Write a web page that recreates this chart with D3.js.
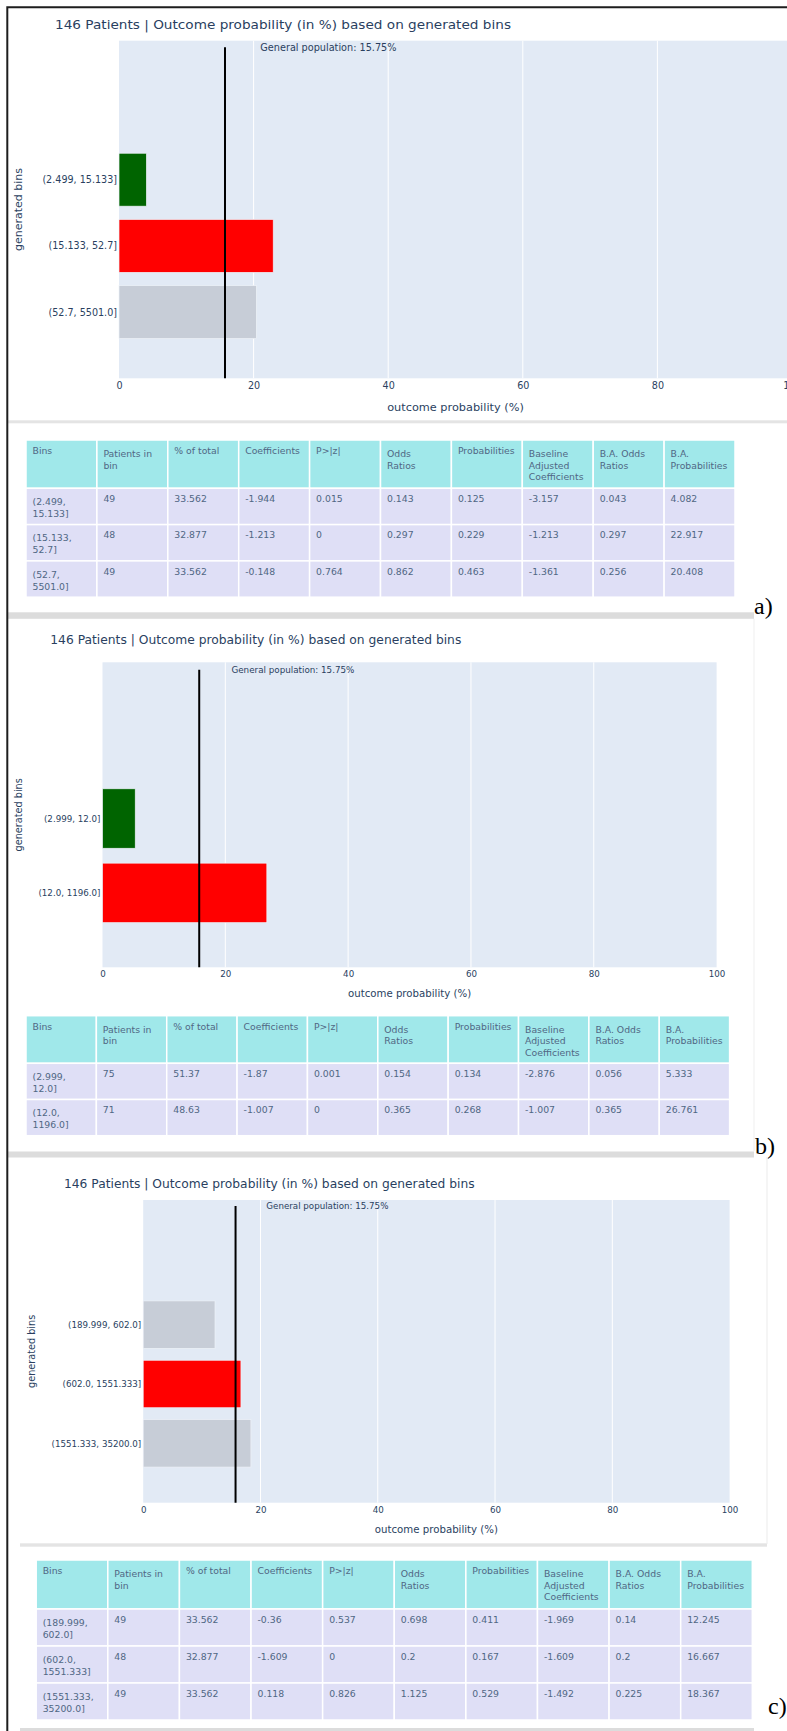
<!DOCTYPE html>
<html>
<head>
<meta charset="utf-8">
<script src="https://cdn.jsdelivr.net/npm/d3@7"></script>
<style>
  html, body { margin: 0; padding: 0; background: #ffffff; }
  svg { display: block; }
</style>
</head>
<body>
<svg id="fig" width="787" height="1731"></svg>
<script>
// ---------------- data ----------------
const generalPopulation = 15.75;
const xTicks = [0, 20, 40, 60, 80, 100];
const tableHeaders = ["Bins", "Patients in<br>bin", "% of total", "Coefficients", "P>|z|",
  "Odds<br>Ratios", "Probabilities", "Baseline<br>Adjusted<br>Coefficients",
  "B.A. Odds<br>Ratios", "B.A.<br>Probabilities"];

// a)
const binsA = ["(2.499, 15.133]", "(15.133, 52.7]", "(52.7, 5501.0]"];
const patientsA = [49, 48, 49];
const pctA = [33.562, 32.877, 33.562];
const coefA = [-1.944, -1.213, -0.148];
const pvalA = [0.015, 0, 0.764];
const oddsA = [0.143, 0.297, 0.862];
const probA = [0.125, 0.229, 0.463];
const baCoefA = [-3.157, -1.213, -1.361];
const baOddsA = [0.043, 0.297, 0.256];
const baProbA = [4.082, 22.917, 20.408];

// b)
const binsB = ["(2.999, 12.0]", "(12.0, 1196.0]"];
const patientsB = [75, 71];
const pctB = [51.37, 48.63];
const coefB = [-1.87, -1.007];
const pvalB = [0.001, 0];
const oddsB = [0.154, 0.365];
const probB = [0.134, 0.268];
const baCoefB = [-2.876, -1.007];
const baOddsB = [0.056, 0.365];
const baProbB = [5.333, 26.761];

// c)
const binsC = ["(189.999, 602.0]", "(602.0, 1551.333]", "(1551.333, 35200.0]"];
const patientsC = [49, 48, 49];
const pctC = [33.562, 32.877, 33.562];
const coefC = [-0.36, -1.609, 0.118];
const pvalC = [0.537, 0, 0.826];
const oddsC = [0.698, 0.2, 1.125];
const probC = [0.411, 0.167, 0.529];
const baCoefC = [-1.969, -1.609, -1.492];
const baOddsC = [0.14, 0.2, 0.225];
const baProbC = [12.245, 16.667, 18.367];

// ---------------- assembly ----------------
const panels = [
  { bins: binsA, cols: [binsA, patientsA, pctA, coefA, pvalA, oddsA, probA, baCoefA, baOddsA, baProbA], pval: pvalA, prob: baProbA },
  { bins: binsB, cols: [binsB, patientsB, pctB, coefB, pvalB, oddsB, probB, baCoefB, baOddsB, baProbB], pval: pvalB, prob: baProbB },
  { bins: binsC, cols: [binsC, patientsC, pctC, coefC, pvalC, oddsC, probC, baCoefC, baOddsC, baProbC], pval: pvalC, prob: baProbC }
];

// page geometry for the three stacked figures
const layouts = [
  { tag: "a)", tagX: 754, tagY: 614,
    titleX: 55, titleY: 28.8, titleSize: 12.8, titleLen: 456,
    plot: { l: 119, r: 792, t: 40.7, b: 378.3 },
    tickSize: 9.6, tickPad: 4.3, annSize: 9.7,
    xTitleSize: 11.3, xTitleY: 407.3, yTitleSize: 11, yTitleX: 18.6,
    table: { l: 26, r: 735, t: 440, hh: 48.3, rh: 36.3 } },
  { tag: "b)", tagX: 755, tagY: 1154,
    titleX: 50.3, titleY: 644, titleSize: 11.5, titleLen: 411,
    plot: { l: 102.5, r: 716.6, t: 662.3, b: 967.3 },
    tickSize: 8.7, tickPad: 3.8, annSize: 8.75,
    xTitleSize: 10.2, xTitleY: 993.3, yTitleSize: 9.7, yTitleX: 18.6,
    table: { l: 26, r: 729.6, t: 1015.7, hh: 47.6, rh: 36.2 } },
  { tag: "c)", tagX: 768, tagY: 1714,
    titleX: 64, titleY: 1187.5, titleSize: 11.5, titleLen: 410.6,
    plot: { l: 143.2, r: 729.6, t: 1200, b: 1502.7 },
    tickSize: 8.7, tickPad: 4.3, annSize: 8.7,
    xTitleSize: 10.2, xTitleY: 1529, yTitleSize: 9.7, yTitleX: 31.2,
    table: { l: 36.2, r: 752.3, t: 1560, hh: 49, rh: 37 } }
];

const FONT = "'DejaVu Sans', Verdana, sans-serif";
const INK = "#2a3f5f";
const TABLE_INK = "#506784";
const PLOT_BG = "#e2eaf5";

const svg = d3.select("#fig");
svg.append("rect").attr("width", 787).attr("height", 1731).attr("fill", "#ffffff");

function barColour(p, v) {
  if (p < 0.05) return v < generalPopulation ? "#006400" : "#ff0000";
  return "#c7cdd7";
}

function drawChart(panel, L) {
  const n = panel.bins.length;
  const g = svg.append("g").attr("font-family", FONT);
  const x = d3.scaleLinear().domain([0, 100]).range([L.plot.l, L.plot.r]);
  // one empty slot below the bins, the reference line runs one slot above them
  const y = d3.scaleLinear().domain([-1, n + 1.1]).range([L.plot.b, L.plot.t]);
  const slot = i => n - 1 - i;   // first bin drawn on top

  // title
  g.append("text")
    .attr("x", L.titleX).attr("y", L.titleY)
    .attr("font-size", L.titleSize).attr("fill", INK)
    .attr("textLength", L.titleLen).attr("lengthAdjust", "spacingAndGlyphs")
    .text(`${d3.sum(panel.cols[1])} Patients | Outcome probability (in %) based on generated bins`);

  // plotting area
  g.append("rect")
    .attr("x", L.plot.l).attr("y", L.plot.t)
    .attr("width", L.plot.r - L.plot.l).attr("height", L.plot.b - L.plot.t)
    .attr("fill", PLOT_BG);

  g.append("g").selectAll("line")
    .data(xTicks.filter(t => t > 0 && t < 100))
    .join("line")
    .attr("x1", d => x(d)).attr("x2", d => x(d))
    .attr("y1", L.plot.t).attr("y2", L.plot.b)
    .attr("stroke", "#ffffff").attr("stroke-width", 1);

  // bars (baseline adjusted probabilities)
  g.append("g").selectAll("rect")
    .data(panel.bins)
    .join("rect")
    .attr("x", x(0))
    .attr("y", (d, i) => y(slot(i) + 0.4))
    .attr("width", (d, i) => x(panel.prob[i]) - x(0))
    .attr("height", (d, i) => y(slot(i) - 0.4) - y(slot(i) + 0.4))
    .attr("fill", (d, i) => barColour(panel.pval[i], panel.prob[i]))
    .attr("stroke", "#eef2f8").attr("stroke-width", 0.7);

  // general population reference line
  g.append("line")
    .attr("x1", x(generalPopulation)).attr("x2", x(generalPopulation))
    .attr("y1", y(-1)).attr("y2", y(n + 1))
    .attr("stroke", "#000000").attr("stroke-width", 2);

  g.append("text")
    .attr("x", x(generalPopulation + 5.25)).attr("y", y(n + 1))
    .attr("dy", "0.35em")
    .attr("font-size", L.annSize).attr("fill", INK)
    .text(`General population: ${generalPopulation}%`);

  // axes
  const xAxis = d3.axisBottom(x).tickValues(xTicks).tickSize(0).tickPadding(L.tickPad);
  g.append("g")
    .attr("transform", `translate(0,${L.plot.b})`)
    .call(xAxis)
    .call(s => s.select(".domain").remove())
    .call(s => s.selectAll("text").attr("font-family", FONT).attr("font-size", L.tickSize).attr("fill", INK));

  const yAxis = d3.axisLeft(y)
    .tickValues(d3.range(n))
    .tickFormat(v => panel.bins[n - 1 - v])
    .tickSize(0).tickPadding(2);
  g.append("g")
    .attr("transform", `translate(${L.plot.l},0)`)
    .call(yAxis)
    .call(s => s.select(".domain").remove())
    .call(s => s.selectAll("text").attr("font-family", FONT).attr("font-size", L.tickSize).attr("fill", INK));

  g.append("text")
    .attr("x", (L.plot.l + L.plot.r) / 2).attr("y", L.xTitleY)
    .attr("dy", "0.35em").attr("text-anchor", "middle")
    .attr("font-size", L.xTitleSize).attr("fill", INK)
    .text("outcome probability (%)");

  g.append("text")
    .attr("transform", `translate(${L.yTitleX},${(L.plot.t + L.plot.b) / 2}) rotate(-90)`)
    .attr("dy", "0.35em").attr("text-anchor", "middle")
    .attr("font-size", L.yTitleSize).attr("fill", INK)
    .text("generated bins");
}

function drawTable(panel, L) {
  const T = L.table;
  const nCols = tableHeaders.length;
  const colW = (T.r - T.l) / nCols;
  const g = svg.append("g").attr("font-family", FONT).attr("font-size", 9.3);
  const rows = [{ cells: tableHeaders.map(h => h.split("<br>")), header: true }];
  panel.bins.forEach((b, r) => {
    rows.push({
      header: false,
      cells: panel.cols.map((col, c) => {
        if (c !== 0) return [String(col[r])];
        const cut = col[r].indexOf(", ");
        return [col[r].slice(0, cut + 1), col[r].slice(cut + 2)];
      })
    });
  });
  let top = T.t;
  rows.forEach(row => {
    const h = row.header ? T.hh : T.rh;
    row.cells.forEach((lines, c) => {
      const x0 = T.l + c * colW;
      g.append("rect")
        .attr("x", x0).attr("y", top).attr("width", colW).attr("height", h)
        .attr("fill", row.header ? "#a0e8ea" : "#dfdff6")
        .attr("stroke", "#ffffff").attr("stroke-width", 1.5);
      const t = g.append("text").attr("fill", TABLE_INK)
        .attr("x", x0 + 6.5).attr("y", top + 13.8 + (lines.length > 1 ? 3 : 0));
      lines.forEach((ln, k) => {
        t.append("tspan").attr("x", x0 + 6.5).attr("dy", k === 0 ? 0 : 11.8).text(ln);
      });
    });
    top += h;
  });
}

panels.forEach((p, i) => {
  drawChart(p, layouts[i]);
  drawTable(p, layouts[i]);
  svg.append("text")
    .attr("x", layouts[i].tagX).attr("y", layouts[i].tagY)
    .attr("font-family", "'Liberation Serif', 'Times New Roman', serif")
    .attr("font-size", 24).attr("fill", "#000000")
    .text(layouts[i].tag);
});

// page separators and frame
const rules = [
  { x: 8, y: 420.3, w: 779, h: 3, c: "#e4e4e4" },
  { x: 8, y: 612.3, w: 746, h: 6.5, c: "#dcdcdc" },
  { x: 8, y: 1151.5, w: 746, h: 6, c: "#dcdcdc" },
  { x: 20, y: 1543.3, w: 747, h: 3.4, c: "#e4e4e4" },
  { x: 20, y: 1728, w: 734, h: 3, c: "#dcdcdc" },
  { x: 753.5, y: 619, w: 1, h: 532, c: "#f0f0f0" },
  { x: 766.5, y: 1157, w: 1, h: 387, c: "#ebebeb" }
];
svg.append("g").selectAll("rect").data(rules).join("rect")
  .attr("x", d => d.x).attr("y", d => d.y).attr("width", d => d.w).attr("height", d => d.h)
  .attr("fill", d => d.c);

svg.append("path")
  .attr("d", "M7.3,1731 L7.3,7.3 L787,7.3")
  .attr("fill", "none").attr("stroke", "#1e1e1e").attr("stroke-width", 2);
</script>
</body>
</html>
